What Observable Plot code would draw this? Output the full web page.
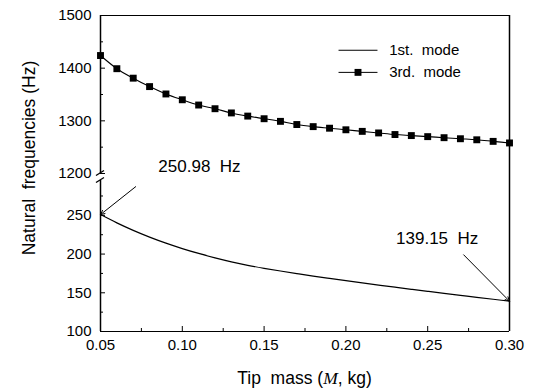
<!DOCTYPE html>
<html>
<head>
<meta charset="utf-8">
<script src="https://cdn.jsdelivr.net/npm/d3@7"></script>
<script src="https://cdn.jsdelivr.net/npm/@observablehq/plot@0.6"></script>
<style>
  html, body { margin: 0; padding: 0; background: #fff; }
  #chart { width: 536px; height: 391px; }
</style>
</head>
<body>
<div id="chart"></div>
<script>
// ---- data ----
const tipMass = [0.05, 0.06, 0.07, 0.08, 0.09, 0.10, 0.11, 0.12, 0.13, 0.14, 0.15, 0.16, 0.17,
                 0.18, 0.19, 0.20, 0.21, 0.22, 0.23, 0.24, 0.25, 0.26, 0.27, 0.28, 0.29, 0.30];
const mode1 = [250.98, 240.3, 230.6, 221.9, 214.1, 207.1, 200.8, 195.1, 190, 185.5, 181.6, 178.1, 174.8,
               171.6, 168.6, 165.65, 162.75, 159.95, 157.2, 154.5, 151.85, 149.25, 146.7, 144.15, 141.65, 139.15];
const mode3 = [1424, 1399, 1381, 1365, 1351, 1340, 1330, 1323, 1315, 1309, 1304, 1299, 1293,
               1289, 1286, 1283, 1280, 1277, 1274, 1272, 1270, 1268, 1266, 1264, 1261, 1258];
const seriesNames = ["1st.\u00a0 mode", "3rd.\u00a0 mode"];

const xTicks = [0.05, 0.10, 0.15, 0.20, 0.25, 0.30];
const xMinorTicks = [0.075, 0.125, 0.175, 0.225, 0.275];
const yTicks = [100, 150, 200, 250, 1200, 1300, 1400, 1500];
const yMinorTicks = [125, 175, 225, 275, 1250, 1350, 1450];
const yBreak = [295, 1200];

// annotations: label, arrow start (x,y) -> arrow end (x,y), label position
const annLabels = ["250.98\u00a0 Hz", "139.15\u00a0 Hz"];
const annFromX = [0.0715, 0.272];
const annFromY = [287, 199];
const annToX = [0.05, 0.30];
const annToY = [250.98, 139.15];
const annTextX = [0.1105, 0.2558];
const annTextY = [1214, 220];

// legend placement (data space inside the frame)
const legX1 = [0.1955, 0.1955];
const legX2 = [0.2193, 0.2193];
const legY = [1434, 1392];
const legTextX = [0.2265, 0.2265];

// ---- build tables ----
const d1 = tipMass.map((x, i) => ({x, y: mode1[i]}));
const d3m = tipMass.map((x, i) => ({x, y: mode3[i]}));
const ann = annLabels.map((t, i) => ({t, x1: annFromX[i], y1: annFromY[i], x2: annToX[i], y2: annToY[i], tx: annTextX[i], ty: annTextY[i]}));
const leg = seriesNames.map((t, i) => ({t, x1: legX1[i], x2: legX2[i], y: legY[i], tx: legTextX[i], mx: (legX1[i] + legX2[i]) / 2}));

const font = "'Liberation Sans', Arial, sans-serif";

const chart = Plot.plot({
  width: 536,
  height: 391,
  marginLeft: 100,
  marginRight: 27,
  marginTop: 15,
  marginBottom: 60,
  style: {fontFamily: font, fontSize: "15px", color: "#000", background: "#fff"},
  x: {domain: [0.05, 0.30], range: [100, 509]},
  y: {type: "linear", domain: [100, 295, 1200, 1500], range: [331, 180, 173, 15]},
  marks: [
    // frame
    Plot.ruleY([100, 1500], {stroke: "#000", strokeWidth: 1.2}),
    Plot.ruleX([0.30], {y1: 100, y2: 1500, stroke: "#000", strokeWidth: 1.5}),
    Plot.ruleX([0.05], {y1: 100, y2: yBreak[0], stroke: "#000", strokeWidth: 1.5}),
    Plot.ruleX([0.05], {y1: yBreak[1], y2: 1500, stroke: "#000", strokeWidth: 1.5}),
    // axes
    Plot.axisX(xTicks, {anchor: "bottom", tickSize: -5, tickPadding: 13, tickFormat: d3.format(".2f"), label: null, fontSize: 15}),
    Plot.axisX(xMinorTicks, {anchor: "bottom", tickSize: -3, text: null, label: null}),
    Plot.axisY(yTicks, {anchor: "left", tickSize: -5, tickPadding: 14, tickFormat: d => String(d), label: null, fontSize: 15}),
    Plot.axisY(yMinorTicks, {anchor: "left", tickSize: -3, text: null, label: null}),
    // series
    Plot.line(d1, {x: "x", y: "y", stroke: "#000", strokeWidth: 1.2, curve: "monotone-x"}),
    Plot.line(d3m, {x: "x", y: "y", stroke: "#000", strokeWidth: 1.1, curve: "monotone-x"}),
    Plot.dot(d3m, {x: "x", y: "y", symbol: "square", r: 3.9, fill: "#000", stroke: null}),
    // annotations
    Plot.arrow(ann, {x1: "x1", y1: "y1", x2: "x2", y2: "y2", stroke: "#000", strokeWidth: 1, headLength: 7, headAngle: 50}),
    Plot.text(ann, {x: "tx", y: "ty", text: "t", fontSize: 17}),
    // legend
    Plot.link(leg, {x1: "x1", x2: "x2", y1: "y", y2: "y", stroke: "#000", strokeWidth: 1}),
    Plot.dot(leg.filter((d, i) => i === 1), {x: "mx", y: "y", symbol: "square", r: 3.9, fill: "#000", stroke: null}),
    Plot.text(leg, {x: "tx", y: "y", text: "t", textAnchor: "start", fontSize: 15})
  ]
});

document.getElementById("chart").appendChild(chart);

const svg = d3.select(chart);
const sx = chart.scale("x");
const sy = chart.scale("y");

// axis break marks (short slanted strokes at both ends of the gap)
const x0 = sx.apply(0.05);
svg.append("g")
  .attr("stroke", "#000")
  .attr("stroke-width", 1.3)
  .selectAll("line")
  .data(yBreak)
  .join("line")
  .attr("x1", x0 - 4).attr("x2", x0 + 4)
  .attr("y1", d => sy.apply(d) + 2.5).attr("y2", d => sy.apply(d) - 2.5);

// axis titles (with italic M)
const xr = sx.range;
svg.append("text")
  .attr("x", (xr[0] + xr[xr.length - 1]) / 2)
  .attr("y", 384)
  .attr("text-anchor", "middle")
  .attr("font-family", font)
  .attr("font-size", 17.5)
  .attr("fill", "#000")
  .call(t => {
    t.append("tspan").text("Tip\u00a0 mass (");
    t.append("tspan").attr("font-style", "italic").attr("font-family", "'Liberation Serif', serif").text("M");
    t.append("tspan").text(",\u00a0kg)");
  });
svg.append("text")
  .attr("transform", `translate(35,158) rotate(-90)`)
  .attr("text-anchor", "middle")
  .attr("font-family", font)
  .attr("font-size", 17.5)
  .attr("fill", "#000")
  .text("Natural\u00a0 frequencies (Hz)");
</script>
</body>
</html>
